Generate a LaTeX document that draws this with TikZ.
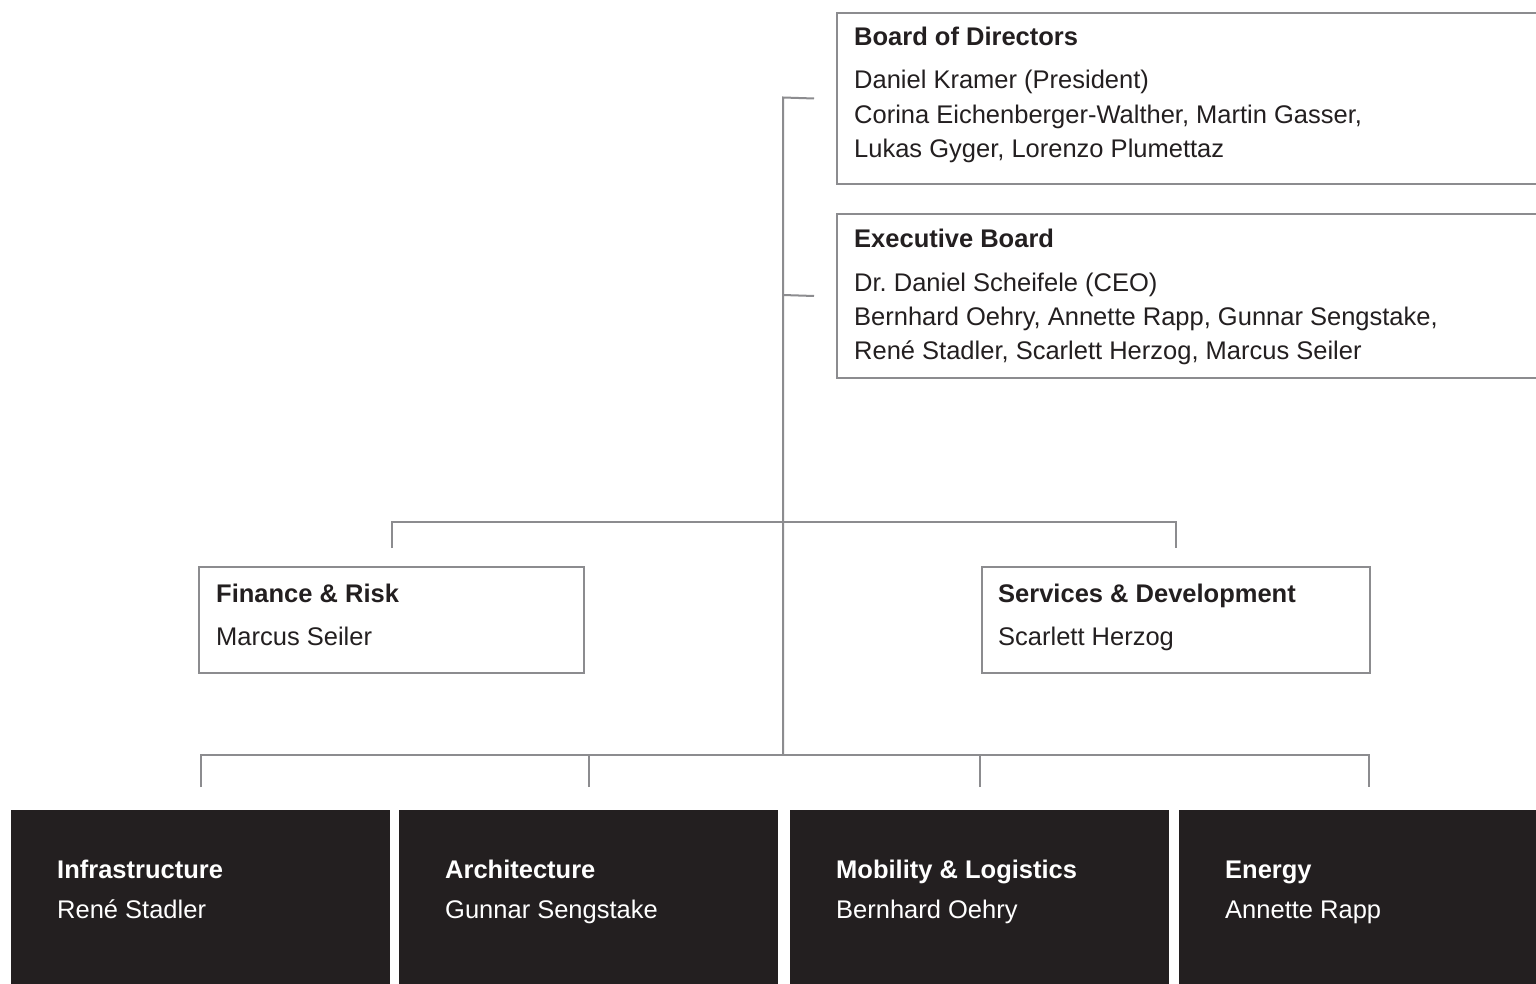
\documentclass[tikz,border=0pt]{standalone}
\usepackage{fontspec}
\setmainfont{Liberation Sans}
\usetikzlibrary{calc}
\definecolor{ink}{HTML}{231F20}
\definecolor{rule}{HTML}{8C8C8F}
\begin{document}
\begin{tikzpicture}[x=1pt,y=-1pt,
  wbox/.style={draw=rule,line width=2pt,fill=white,rectangle,inner sep=0pt,anchor=north west},
  dbox/.style={fill=ink,draw=none,rectangle,inner sep=0pt,anchor=north west,minimum width=379pt,minimum height=200pt},
  conn/.style={draw=rule,line width=2pt,line join=miter},
  ttl/.style={anchor=base west,inner sep=0pt,font=\fontsize{25.5}{30}\selectfont\bfseries,text=ink},
  txt/.style={anchor=base west,inner sep=0pt,font=\fontsize{25.5}{30}\selectfont,text=ink},
  dttl/.style={ttl,text=white},
  dtxt/.style={txt,text=white}]
\useasboundingbox[fill=white] (0,0) rectangle (1536,984);

% boxes
\node[wbox,minimum width=720pt,minimum height=171pt] (board) at (836,12) {};
\node[wbox,minimum width=720pt,minimum height=164pt] (exec) at (836,213) {};
\node[wbox,minimum width=385pt,minimum height=106pt] (fin) at (198,566) {};
\node[wbox,minimum width=388pt,minimum height=106pt] (svc) at (981,566) {};
\node[dbox] (d1) at (11,810) {};
\node[dbox] (d2) at (399,810) {};
\node[dbox] (d3) at (790,810) {};
\node[dbox] (d4) at (1179,810) {};

% texts
\node[ttl] (bt) at (854,46) {Board of Directors};
\node[txt] (b1) at (854,89) {Daniel Kramer (President)};
\node[txt] (b2) at (854,123.5) {Corina Eichenberger-Walther, Martin Gasser,};
\node[txt] (b3) at (854,158) {Lukas Gyger, Lorenzo Plumettaz};

\node[ttl] (et) at (854,248) {Executive Board};
\node[txt] (e1) at (854,291) {Dr.\ Daniel Scheifele (CEO)};
\node[txt] (e2) at (854,325) {Bernhard Oehry, Annette Rapp, Gunnar Sengstake,};
\node[txt] (e3) at (854,359) {René Stadler, Scarlett Herzog, Marcus Seiler};

\node[ttl] (ft) at (216,602) {Finance \& Risk};
\node[txt] (f1) at (216,645) {Marcus Seiler};
\node[ttl] (st) at (998,602) {Services \& Development};
\node[txt] (s1) at (998,645) {Scarlett Herzog};

\node[dttl] (d1t) at (57,878) {Infrastructure};
\node[dtxt] (d1n) at (57,918) {René Stadler};
\node[dttl] (d2t) at (445,878) {Architecture};
\node[dtxt] (d2n) at (445,918) {Gunnar Sengstake};
\node[dttl] (d3t) at (836,878) {Mobility \& Logistics};
\node[dtxt] (d3n) at (836,918) {Bernhard Oehry};
\node[dttl] (d4t) at (1225,878) {Energy};
\node[dtxt] (d4n) at (1225,918) {Annette Rapp};

% connectors
\coordinate (bs) at ([xshift=-22pt]board.west);
\coordinate (es) at ([xshift=-22pt]exec.west);
\coordinate (j1) at (783,97.5);
\coordinate (j2) at (783,295);
\coordinate (j3) at (783,522);
\coordinate (j4) at (783,755);
\draw[conn] (bs) -- (j1) -- (j4);
\draw[conn] (es) -- (j2);
\draw[conn] ([yshift=18pt]fin.north) |- (j3) -| ([yshift=18pt]svc.north);
\draw[conn] ([yshift=23pt]d1.north) |- (j4) -| ([yshift=23pt]d4.north);
\draw[conn] ([yshift=23pt]d2.north) -- (d2.north |- j4);
\draw[conn] ([yshift=23pt]d3.north) -- (d3.north |- j4);
\end{tikzpicture}
\end{document}
